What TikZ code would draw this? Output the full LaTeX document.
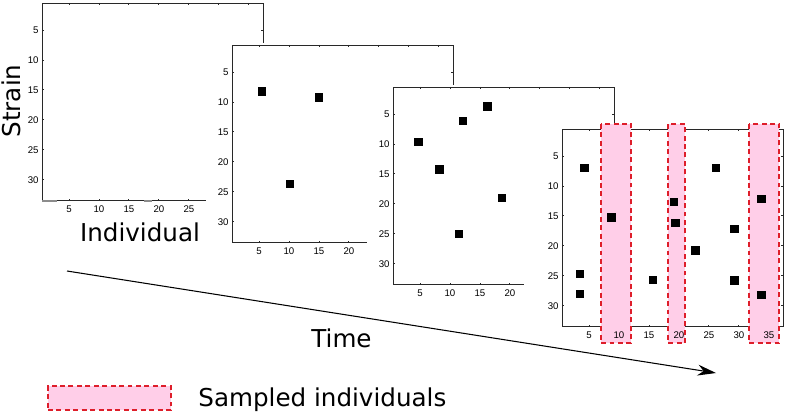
\documentclass[tikz,border=0pt]{standalone}
\usepackage{fontspec}
\setmainfont{DejaVu Sans}
\newfontfamily\ticksfont{Liberation Sans}
\usetikzlibrary{arrows.meta}
\definecolor{bandred}{RGB}{222,30,42}
\definecolor{bandpink}{RGB}{255,206,232}
\definecolor{axisgray}{RGB}{40,40,40}
\begin{document}
\begin{tikzpicture}[x=0.02cm, y=-0.02cm, line width=0.5pt,
  axis/.style={draw=axisgray, line width=0.55pt},
  ticklbl/.style={inner sep=0pt, font=\ticksfont\fontsize{5.5}{6}\selectfont},
  cell/.style={fill=black, inner sep=0pt, minimum size=4.9pt},
  band/.style={draw=bandred, fill=bandpink, line width=1.1pt, dash pattern=on 2.8pt off 2pt},
  lbl/.style={inner sep=0pt, font=\fontsize{14}{16}\selectfont},
  timearrow/.style={line width=0.6pt, -{Stealth[length=10.5pt, width=6.2pt]}}]
  \useasboundingbox (0,0) rectangle (786,412);
  % 그림 1 : 빈 행렬 (눈금 한 칸 = 6px)
  \begin{scope}[shift={(39,0)}, x=0.12cm, y=-0.12cm]
    \draw[axis] (0.5,0.5) rectangle (37.4,33.5);
    \foreach \t in {5,10,...,35} {
      \draw[axis] (\t,33.5) -- ++(0,-0.35) (\t,0.5) -- ++(0,0.35);
      \node[ticklbl] (p1x\t) at (\t,34.9) {\t};
    }
    \foreach \t in {5,10,...,30} {
      \draw[axis] (0.5,\t) -- ++(0.35,0) (37.4,\t) -- ++(-0.35,0);
      \node[ticklbl, anchor=east] (p1y\t) at (0,\t) {\t};
    }
    \draw[line width=1.2pt, black!45] (0.5,33.5) -- (3,33.5) (17.5,33.5) -- (18.8,33.5);
  \end{scope}
  % 그림 2
  \begin{scope}[shift={(229,42)}, x=0.12cm, y=-0.12cm]
    \fill[white] (-3.83,0.17) rectangle (38,38);
    \draw[axis] (0.5,0.5) rectangle (37.4,33.5);
    \foreach \t in {5,10,...,35} {
      \draw[axis] (\t,33.5) -- ++(0,-0.35) (\t,0.5) -- ++(0,0.35);
      \node[ticklbl] (p2x\t) at (\t,34.9) {\t};
    }
    \foreach \t in {5,10,...,30} {
      \draw[axis] (0.5,\t) -- ++(0.35,0) (37.4,\t) -- ++(-0.35,0);
      \node[ticklbl, anchor=east] (p2y\t) at (0,\t) {\t};
    }
    \foreach \u/\v [count=\k] in {5.5/8.3, 15/9.3, 10.2/23.7}
      \node[cell] (p2c\k) at (\u,\v) {};
  \end{scope}
  % 그림 3
  \begin{scope}[shift={(390,84)}, x=0.12cm, y=-0.12cm]
    \fill[white] (-3.83,0.17) rectangle (38,38);
    \draw[axis] (0.5,0.5) rectangle (37.4,33.5);
    \foreach \t in {5,10,...,35} {
      \draw[axis] (\t,33.5) -- ++(0,-0.35) (\t,0.5) -- ++(0,0.35);
      \node[ticklbl] (p3x\t) at (\t,34.9) {\t};
    }
    \foreach \t in {5,10,...,30} {
      \draw[axis] (0.5,\t) -- ++(0.35,0) (37.4,\t) -- ++(-0.35,0);
      \node[ticklbl, anchor=east] (p3y\t) at (0,\t) {\t};
    }
    \foreach \u/\v [count=\k] in {16.3/3.8, 12.2/6.2, 4.7/9.7, 8.2/14.3, 18.7/19, 11.5/25}
      \node[cell] (p3c\k) at (\u,\v) {};
  \end{scope}
  % 그림 4 : 표본으로 뽑은 개체(분홍 띠)
  \begin{scope}[shift={(559,126)}, x=0.12cm, y=-0.12cm]
    \fill[white] (-5.83,0.17) rectangle (38,38);
    \draw[axis] (0.5,0.5) rectangle (37.4,33.5);
    \foreach \t in {5,10,...,35}
      \draw[axis] (\t,33.5) -- ++(0,-0.35) (\t,0.5) -- ++(0,0.35);
    \foreach \t in {5,10,...,30}
      \draw[axis] (0.5,\t) -- ++(0.35,0) (37.4,\t) -- ++(-0.35,0);
    \draw[band] (7,-0.33) rectangle (12,36.2);
    \draw[band] (18.2,-0.33) rectangle (21,36.2);
    \draw[band] (31.7,-0.33) rectangle (36.7,36.2);
    \foreach \t in {5,10,...,35}
      \node[ticklbl] (p4x\t) at (\t,34.9) {\t};
    \foreach \t in {5,10,...,30}
      \node[ticklbl, anchor=east] (p4y\t) at (0,\t) {\t};
    \foreach \u/\v [count=\k] in {4.2/7, 8.8/15.3, 3.5/24.7, 3.5/28, 15.7/25.7, 19.2/12.7, 19.4/16.2,
        22.8/20.8, 26.2/7, 29.3/17.2, 29.3/25.8, 33.8/12.2, 33.8/28.2}
      \node[cell] (p4c\k) at (\u,\v) {};
  \end{scope}
  % 축 이름
  \node[lbl, rotate=90, anchor=base] (strain) at (20,101) {Strain};
  \node[lbl, anchor=base] (indiv) at (140,241) {Individual};
  \node[lbl, anchor=base] (time) at (341.5,347) {Time};
  % 시간 화살표
  \coordinate (t0) at (67,271);
  \coordinate (t1) at (716,373);
  \draw[timearrow] (t0) -- (t1);
  % 범례
  \node[band, minimum width=2.46cm, minimum height=0.48cm] (key) at (109.5,398) {};
  \node[lbl, anchor=base west] (keytext) at (198,406) {Sampled individuals};
\end{tikzpicture}
\end{document}
